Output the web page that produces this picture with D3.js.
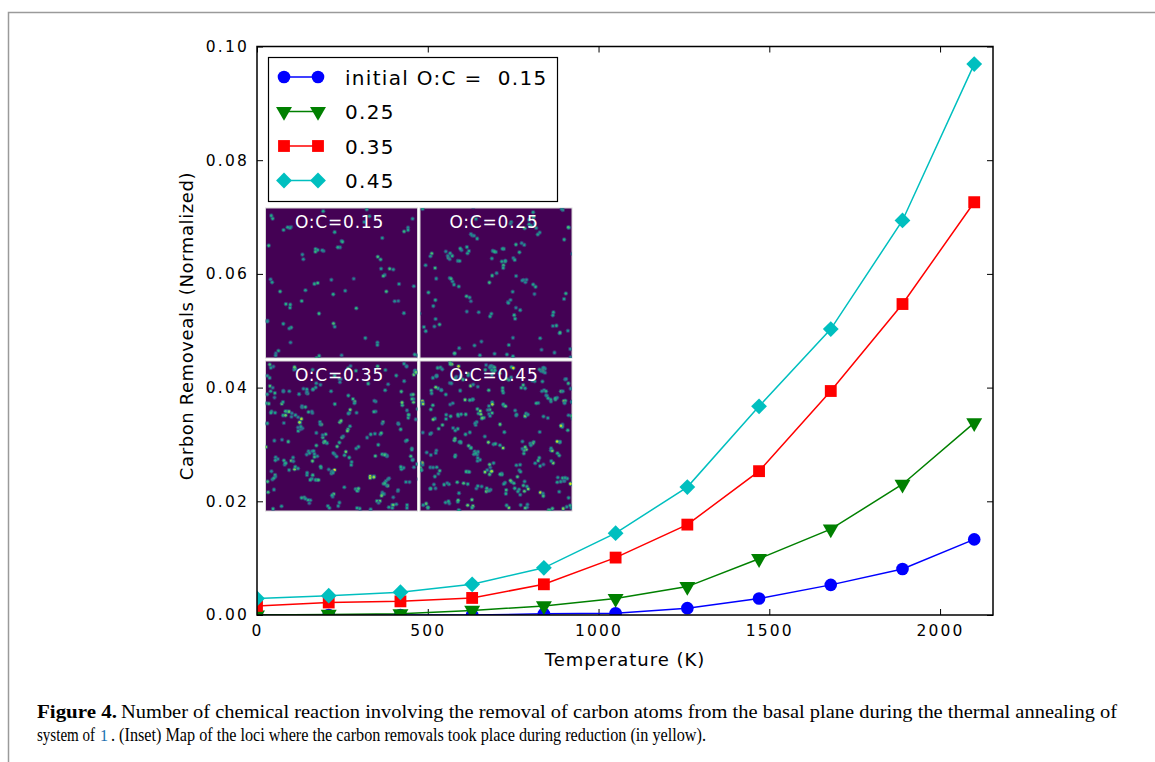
<!DOCTYPE html>
<html>
<head>
<meta charset="utf-8">
<script src="https://cdn.jsdelivr.net/npm/d3@7"></script>
<style>
  body { margin: 0; background: #fff; }
  svg text { font-family: "DejaVu Sans", sans-serif; }
</style>
</head>
<body>
<svg id="fig" width="1155" height="762"></svg>
<script>
// values
var temps = [0, 210, 420, 630, 840, 1050, 1260, 1470, 1680, 1890, 2100];
var oc15 = [0.0000, 0.0000, 0.0000, 0.0000, 0.0002, 0.0003, 0.0012, 0.0029, 0.0053, 0.0081, 0.0133];
var oc25 = [0.0000, 0.0001, 0.0002, 0.0008, 0.0016, 0.0029, 0.0050, 0.0099, 0.0151, 0.0230, 0.0338];
var oc35 = [0.0016, 0.0022, 0.0024, 0.0030, 0.0054, 0.0101, 0.0159, 0.0253, 0.0394, 0.0547, 0.0726];
var oc45 = [0.0029, 0.0034, 0.0040, 0.0054, 0.0083, 0.0144, 0.0225, 0.0367, 0.0503, 0.0694, 0.0969];
var seriesNames = ['initial O:C =  0.15', '0.25', '0.35', '0.45'];
var xTicks = [0, 500, 1000, 1500, 2000];
var yTicks = [0, 0.02, 0.04, 0.06, 0.08, 0.10];
var insetLabels = ['O:C=0.15', 'O:C=0.25', 'O:C=0.35', 'O:C=0.45'];
var insetClusters = [55, 95, 150, 175];   // rough amount of spots per map

var colors = ['#0000ff', '#008000', '#ff0000', '#00bfbf'];
var shapes = [d3.symbolCircle, d3.symbolTriangle, d3.symbolSquare, d3.symbolSquare];
var sizes = [125, 110, 140, 125];

function markerTransform(k, mx, my) {
    var t = 'translate(' + mx + ',' + my + ')';
    if (k == 1) t += ' rotate(180)';
    if (k == 3) t += ' rotate(45)';
    return t;
}

var svg = d3.select('#fig');

// page frame
svg.append('path')
    .attr('d', 'M8.5,762 V12.5 H1155')
    .attr('fill', 'none')
    .attr('stroke', '#9a9a9a')
    .attr('stroke-width', 1.5);

var pLeft = 257, pRight = 993, pTop = 46.5, pBottom = 615;

var x = d3.scaleLinear().domain([0, 2155]).range([pLeft, pRight]);
var y = d3.scaleLinear().domain([0, 0.1]).range([pBottom, pTop]);

svg.append('clipPath').attr('id', 'plotclip')
    .append('rect')
    .attr('x', pLeft).attr('y', pTop)
    .attr('width', pRight - pLeft).attr('height', pBottom - pTop);

// axes, ticks pointing inward on all four sides
var axB = d3.axisBottom(x).tickValues(xTicks).tickSize(-6).tickPadding(10).tickFormat(d3.format('d'));
var axT = d3.axisTop(x).tickValues(xTicks).tickSize(-6).tickFormat('');
var axL = d3.axisLeft(y).tickValues(yTicks).tickSize(-6).tickPadding(8).tickFormat(d3.format('.2f'));
var axR = d3.axisRight(y).tickValues(yTicks).tickSize(-6).tickFormat('');

function styleAxis(g) {
    g.select('.domain').remove();
    g.selectAll('.tick line').attr('stroke', '#000').attr('stroke-width', 1);
    g.selectAll('.tick text')
        .attr('fill', '#000')
        .style('font-size', '15.5px')
        .style('letter-spacing', '2.2px');
}

svg.append('g').attr('transform', 'translate(0,' + pBottom + ')').call(axB).call(styleAxis);
svg.append('g').attr('transform', 'translate(0,' + pTop + ')').call(axT).call(styleAxis);
svg.append('g').attr('transform', 'translate(' + pLeft + ',0)').call(axL).call(styleAxis);
svg.append('g').attr('transform', 'translate(' + pRight + ',0)').call(axR).call(styleAxis);

// data lines
var allSeries = [oc15, oc25, oc35, oc45];
var line = d3.line()
    .x(function(d, i) { return x(temps[i]); })
    .y(function(d) { return y(d); });

var plot = svg.append('g').attr('clip-path', 'url(#plotclip)');

allSeries.forEach(function(vals, k) {
    plot.append('path')
        .attr('d', line(vals))
        .attr('fill', 'none')
        .attr('stroke', colors[k])
        .attr('stroke-width', 1.5);
    plot.selectAll('.m' + k)
        .data(vals)
        .enter().append('path')
        .attr('class', 'm' + k)
        .attr('d', d3.symbol().type(shapes[k]).size(sizes[k]))
        .attr('transform', function(d, i) { return markerTransform(k, x(temps[i]), y(d)); })
        .attr('fill', colors[k]);
});

// frame of the axes on top
svg.append('rect')
    .attr('x', pLeft).attr('y', pTop)
    .attr('width', pRight - pLeft).attr('height', pBottom - pTop)
    .attr('fill', 'none')
    .attr('stroke', '#000')
    .attr('stroke-width', 1.5);

// axis labels
svg.append('text')
    .attr('x', 625)
    .attr('y', 666)
    .attr('text-anchor', 'middle')
    .style('font-size', '18px')
    .style('letter-spacing', '1px')
    .text('Temperature (K)');

svg.append('text')
    .attr('transform', 'translate(193,326) rotate(-90)')
    .attr('text-anchor', 'middle')
    .style('font-size', '18px')
    .style('letter-spacing', '0.6px')
    .text('Carbon Removeals (Normalized)');

// legend
var leg = svg.append('g');
leg.append('rect')
    .attr('x', 268.5).attr('y', 57.5)
    .attr('width', 289).attr('height', 144)
    .attr('fill', '#fff')
    .attr('stroke', '#000')
    .attr('stroke-width', 1.2);

seriesNames.forEach(function(name, k) {
    var ly = 77 + k * 34.5;
    leg.append('line')
        .attr('x1', 284).attr('x2', 318)
        .attr('y1', ly).attr('y2', ly)
        .attr('stroke', colors[k]).attr('stroke-width', 1.5);
    [284, 318].forEach(function(mx) {
        leg.append('path')
            .attr('d', d3.symbol().type(shapes[k]).size(sizes[k]))
            .attr('transform', markerTransform(k, mx, ly))
            .attr('fill', colors[k]);
    });
    leg.append('text')
        .attr('x', 345).attr('y', ly + 7.5)
        .style('font-size', '20px')
        .style('letter-spacing', '1.3px')
        .style('white-space', 'pre')
        .text(name);
});

// inset: four maps of removal loci (image texture, drawn with a seeded generator)
var inset = svg.append('g');
inset.append('rect')
    .attr('x', 263).attr('y', 206)
    .attr('width', 311).attr('height', 307)
    .attr('fill', '#fff');

var panels = [
    {x: 265.5, y: 208, w: 152, h: 150},
    {x: 420, y: 208, w: 152, h: 150},
    {x: 265.5, y: 361, w: 152, h: 150},
    {x: 420, y: 361, w: 152, h: 150}
];
var dotColor = d3.scaleSequential(d3.interpolateViridis).domain([0, 1]);

panels.forEach(function(p, k) {
    var g = inset.append('g');
    var cid = 'pc' + k;
    svg.append('clipPath').attr('id', cid)
        .append('rect').attr('x', p.x).attr('y', p.y).attr('width', p.w).attr('height', p.h);
    g.append('rect')
        .attr('x', p.x).attr('y', p.y)
        .attr('width', p.w).attr('height', p.h)
        .attr('fill', '#440154')
        .attr('stroke', '#d8d8d8')
        .attr('stroke-width', 1);
    var rnd = d3.randomLcg(0.137 + k * 0.211);
    var dg = g.append('g').attr('clip-path', 'url(#' + cid + ')');
    for (var i = 0; i < insetClusters[k]; i++) {
        var cx = p.x + rnd() * p.w, cy = p.y + rnd() * p.h;
        var n = 1 + Math.floor(rnd() * (k < 2 ? 1.6 : 2.8));
        for (var j = 0; j < n; j++) {
            var dx = cx + (rnd() - 0.5) * 5, dy = cy + (rnd() - 0.5) * 5;
            var v = 0.38 + rnd() * 0.2 + (k >= 2 ? rnd() * rnd() * 0.45 : rnd() * 0.15);
            dg.append('circle')
                .attr('cx', dx).attr('cy', dy)
                .attr('r', 2.3)
                .attr('fill', dotColor(v * 0.55))
                .attr('opacity', 0.55);
            dg.append('circle')
                .attr('cx', dx).attr('cy', dy)
                .attr('r', 1.3)
                .attr('fill', dotColor(Math.min(v, 1)));
        }
    }
    g.append('text')
        .attr('x', p.x + p.w / 2 - 2)
        .attr('y', p.y + 20)
        .attr('text-anchor', 'middle')
        .attr('fill', '#fff')
        .style('font-size', '17px')
        .style('letter-spacing', '0.8px')
        .text(insetLabels[k]);
});

// caption
function capText(tx, ty, len, str) {
    var t = svg.append('text')
        .attr('x', tx).attr('y', ty)
        .style('font-family', '"Liberation Serif", serif')
        .style('font-size', '19px')
        .text(str);
    if (len) t.attr('textLength', len).attr('lengthAdjust', 'spacingAndGlyphs');
    return t;
}
capText(37, 718, 80, 'Figure 4.').style('font-weight', 'bold');
capText(121, 718, 996, 'Number of chemical reaction involving the removal of carbon atoms from the basal plane during the thermal annealing of');
capText(37, 741, 58, 'system of');
capText(100, 741, 0, '1').attr('fill', '#1a6fb0').style('font-size', '16px');
capText(111, 741, 595, '. (Inset) Map of the loci where the carbon removals took place during reduction (in yellow).');
</script>
</body>
</html>
